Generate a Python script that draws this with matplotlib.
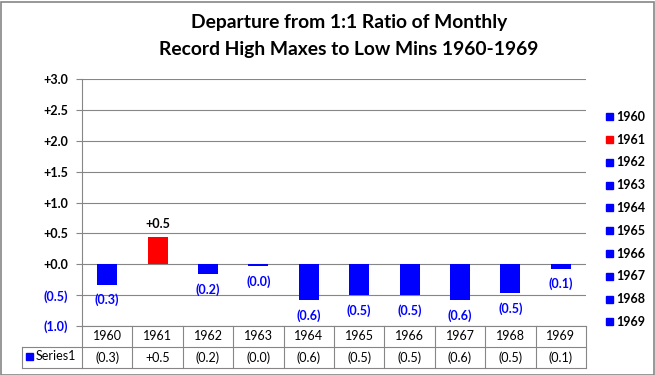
import matplotlib.pyplot as plt
from matplotlib.patches import Rectangle

years = ["1960", "1961", "1962", "1963", "1964", "1965", "1966", "1967", "1968", "1969"]
departure = [-0.33, 0.45, -0.16, -0.03, -0.58, -0.50, -0.50, -0.58, -0.47, -0.07]
bar_colors = ["blue", "red", "blue", "blue", "blue", "blue", "blue", "blue", "blue", "blue"]
yticks = [-1.0, -0.5, 0.0, 0.5, 1.0, 1.5, 2.0, 2.5, 3.0]

W, H = 655, 375
plt.rcParams['font.family'] = ['Lato', 'DejaVu Sans']
grid_col = "#868686"


def fmt(v):
    # excel style +0.0;(0.0)
    if v < 0:
        return "(%.1f)" % abs(v)
    return "+%.1f" % v


def px(x0, y0, x1, y1):
    return [x0 / W, 1 - y1 / H, (x1 - x0) / W, (y1 - y0) / H]


fig = plt.figure(figsize=(W / 100, H / 100), dpi=100)
ax = fig.add_axes(px(82, 79.3, 586, 326))

x = range(len(years))
bars = ax.bar(x, departure, width=0.4, color=bar_colors, zorder=3)
ax.set_xlim(-0.5, len(years) - 0.5)
ax.set_ylim(-1, 3)
ax.set_yticks(yticks)
ax.set_yticklabels([fmt(t) for t in yticks], fontweight="bold", fontsize=9)
for t, lab in zip(yticks, ax.get_yticklabels()):
    lab.set_color("blue" if t < 0 else "black")
ax.tick_params(axis="y", length=4, width=0.8, color=grid_col, pad=6)
ax.set_xticks([])
ax.grid(axis="y", color=grid_col, linewidth=0.8, zorder=0)
for s in ["top", "right", "bottom"]:
    ax.spines[s].set_visible(False)
ax.spines["left"].set_color(grid_col)
ax.spines["left"].set_linewidth(0.8)

for i, v in enumerate(departure):
    if v < 0:
        ax.annotate(fmt(v), (i, v), xytext=(0, -11), textcoords="offset points",
                    ha="center", va="center", color="blue", fontweight="bold", fontsize=9)
    else:
        ax.annotate(fmt(v), (i, v), xytext=(0, 9), textcoords="offset points",
                    ha="center", va="center", color="black", fontweight="bold", fontsize=9)

# data table under the plot
tab = fig.add_axes(px(82, 326, 586, 368))
tab.set_xlim(-0.5, len(years) - 0.5)
tab.set_ylim(0, 2)
tab.axis("off")
lw = 0.8
for yy in [0, 1, 2]:
    tab.plot([-0.5, len(years) - 0.5], [yy, yy], color=grid_col, lw=lw, clip_on=False)
for i in range(len(years) + 1):
    tab.plot([i - 0.5, i - 0.5], [0, 2], color=grid_col, lw=lw, clip_on=False)
left_x = -0.5 - 60 / 50.4
tab.plot([left_x, -0.5], [1, 1], color=grid_col, lw=lw, clip_on=False)
tab.plot([left_x, -0.5], [0, 0], color=grid_col, lw=lw, clip_on=False)
tab.plot([left_x, left_x], [0, 1], color=grid_col, lw=lw, clip_on=False)
for i, (yr, v) in enumerate(zip(years, departure)):
    tab.text(i, 1.5, yr, ha="center", va="center", fontsize=9)
    tab.text(i, 0.5, fmt(v), ha="center", va="center", fontsize=9)
fig.patches.append(Rectangle((26 / W, 1 - 360 / H), 7 / W, 7 / H, color="blue",
                             transform=fig.transFigure))
fig.text(36 / W, 1 - 356.5 / H, "Series1", ha="left", va="center", fontsize=9)

# legend on the right
for i, (yr, c) in enumerate(zip(years, bar_colors)):
    yy = 116.7 + i * 22.8
    fig.patches.append(Rectangle((606 / W, 1 - (yy + 3.5) / H), 7 / W, 7 / H, color=c,
                                 transform=fig.transFigure))
    fig.text(616 / W, 1 - yy / H, yr, ha="left", va="center", fontsize=9, fontweight="bold")

fig.text(349 / W, 1 - 22.7 / H, "Departure from 1:1 Ratio of Monthly",
         ha="center", va="center", fontsize=13.9, fontweight="bold")
fig.text(349 / W, 1 - 49.3 / H, "Record High Maxes to Low Mins 1960-1969",
         ha="center", va="center", fontsize=13.9, fontweight="bold")

fig.patches.append(Rectangle((0.5 / W, 0.5 / H), (W - 2) / W, (H - 2) / H, fill=False,
                             edgecolor=grid_col, lw=1.2, transform=fig.transFigure))

fig.savefig("out.png", dpi=100)
